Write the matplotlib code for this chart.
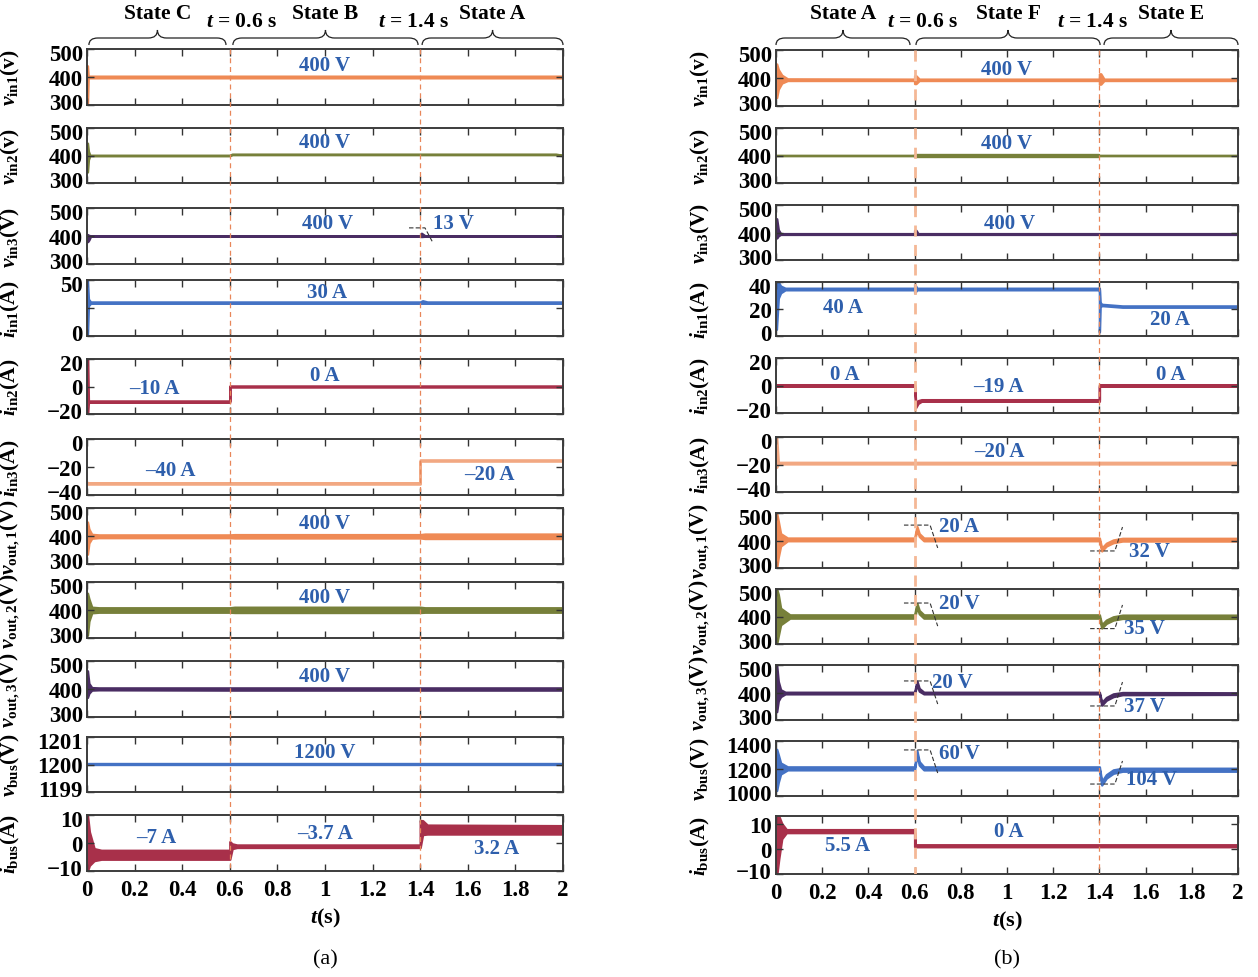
import matplotlib
matplotlib.use('Agg')
import matplotlib.pyplot as plt
from matplotlib.path import Path
from matplotlib.patches import PathPatch
from matplotlib.transforms import ScaledTranslation

plt.rcParams['font.family'] = ['Liberation Serif', 'DejaVu Serif']
plt.rcParams['font.weight'] = 'bold'
plt.rcParams['mathtext.fontset'] = 'custom'
plt.rcParams['mathtext.rm'] = 'Liberation Serif:bold'
plt.rcParams['mathtext.it'] = 'Liberation Serif:italic:bold'
plt.rcParams['mathtext.bf'] = 'Liberation Serif:bold'

# ---------------- data: (t, lower envelope, upper envelope) ----------------
t_switch = [0.6, 1.4]
x_ticks = [0, 0.2, 0.4, 0.6, 0.8, 1, 1.2, 1.4, 1.6, 1.8, 2]
x_ticklabels = ['0', '0.2', '0.4', '0.6', '0.8', '1', '1.2', '1.4', '1.6', '1.8', '2']

# (a)
a_vin1 = [(0, 300, 440), (0.002, 300, 440), (0.005, 397, 403), (2.0, 397, 403)]
a_vin2 = [(0, 340, 445), (0.002, 340, 445), (0.006, 385, 415), (0.012, 399, 401),
          (0.6, 399, 401), (0.61, 403, 405), (1.97, 403, 405), (1.99, 400, 402), (2.0, 400, 402)]
a_vin3 = [(0, 380, 405), (0.003, 380, 405), (0.008, 386, 402), (0.015, 399, 401),
          (1.4, 399, 401), (1.405, 398, 410), (1.42, 399, 401), (2.0, 399, 401)]
a_iin1 = [(0, 0, 50), (0.002, 0, 50), (0.006, 27, 33), (0.015, 29.2, 30.4),
          (1.4, 29.2, 30.4), (1.41, 29.2, 31.5), (1.43, 29.2, 30.4), (2.0, 29.2, 30.4)]
a_iin2 = [(0, -20, 20), (0.003, -20, 20), (0.006, -11.5, -10.5), (0.6, -11.5, -10.5),
          (0.6, -0.4, 0.4), (2.0, -0.4, 0.4)]
a_iin3 = [(0, -32.2, -30.8), (0.004, -32.2, -31.2), (1.4, -32.2, -31.2),
          (1.4, -15.8, -14.9), (2.0, -15.8, -14.9)]
a_vout1 = [(0, 335, 450), (0.002, 335, 450), (0.008, 375, 425), (0.02, 392, 406), (0.05, 394, 404),
           (0.6, 394, 404), (0.62, 393, 405), (1.4, 393, 405), (1.42, 391, 407), (2.0, 391, 407)]
a_vout2 = [(0, 310, 460), (0.002, 310, 460), (0.008, 360, 440), (0.02, 390, 410), (0.05, 392, 408),
           (0.6, 392, 408), (0.62, 391, 410), (1.4, 391, 410), (1.42, 392, 408), (2.0, 392, 408)]
a_vout3 = [(0, 370, 465), (0.002, 370, 465), (0.008, 385, 420), (0.02, 396, 405), (0.05, 397, 404),
           (0.6, 396, 404), (1.4, 396, 404), (2.0, 396, 404)]
a_vbus = [(0, 1199.97, 1200.03), (2.0, 1199.97, 1200.03)]
a_ibus = [(0, -10, 10), (0.002, -10, 10), (0.01, -8, 4), (0.03, -6.3, -2.0), (0.06, -5.8, -2.6),
          (0.6, -5.8, -2.6), (0.6, -5.8, 0.5), (0.61, -2.0, -0.3), (0.63, -1.6, -0.7),
          (1.4, -1.6, -0.7), (1.4, -1.6, 8.0), (1.41, 3.0, 8.0), (1.43, 3.2, 6.4), (2.0, 3.2, 6.2)]

# (b)
b_vin1 = [(0, 330, 450), (0.003, 330, 450), (0.01, 360, 430), (0.025, 382, 410), (0.05, 391, 397),
          (0.6, 391, 396), (0.6, 380, 408), (0.606, 380, 408), (0.62, 391, 396),
          (1.4, 391, 396), (1.4, 378, 415), (1.406, 378, 415), (1.42, 391, 396), (2.0, 391, 396)]
b_vin2 = [(0, 397, 399), (0.6, 397, 399), (0.6, 395.5, 400.5), (1.4, 395.5, 400.5),
          (1.4, 397, 399), (2.0, 397, 399)]
b_vin3 = [(0, 395, 450), (0.003, 380, 450), (0.01, 388, 410), (0.02, 393, 396),
          (0.6, 393, 396), (0.6, 393, 408), (0.606, 393, 408), (0.615, 393, 396), (2.0, 393, 396)]
b_iin1 = [(0, 5, 40), (0.002, 5, 40), (0.01, 28, 40), (0.02, 32, 37), (0.04, 34.2, 35.4),
          (0.6, 34.2, 35.4), (0.6, 32, 38.5), (0.61, 34.2, 35.4), (1.4, 34.2, 35.4),
          (1.4, 3, 35.4), (1.403, 21.5, 25), (1.41, 22.5, 23.5), (1.5, 21.3, 22.3), (2.0, 21.3, 22.3)]
b_iin2 = [(0, -0.6, 0.6), (0.6, -0.6, 0.6), (0.605, -16, -13), (0.615, -13, -11),
          (0.63, -11.5, -10.3), (1.4, -11.5, -10.3), (1.4, -0.6, 0.6), (2.0, -0.6, 0.6)]
b_iin3 = [(0, -22, 0), (0.003, -22, 0), (0.01, -19.6, -18.4), (2.0, -19.6, -18.4)]
b_vout1 = [(0, 300, 500), (0.003, 300, 500), (0.01, 340, 470), (0.02, 380, 425), (0.05, 399, 409),
           (0.6, 399, 409), (0.61, 441, 451), (0.62, 415, 425), (0.64, 399, 409),
           (1.4, 399, 409), (1.41, 362, 372), (1.43, 380, 390), (1.46, 392, 402), (1.5, 398, 408), (2.0, 398, 408)]
b_vout2 = [(0, 300, 500), (0.003, 300, 500), (0.01, 330, 480), (0.02, 370, 430), (0.06, 394, 406),
           (0.6, 394, 406), (0.61, 436, 448), (0.62, 410, 422), (0.64, 394, 406),
           (1.4, 394, 406), (1.41, 358, 370), (1.43, 375, 387), (1.46, 387, 399), (1.5, 393, 405), (2.0, 393, 405)]
b_vout3 = [(0, 330, 500), (0.003, 330, 500), (0.01, 370, 440), (0.02, 385, 410), (0.04, 395, 401),
           (0.6, 395, 401), (0.61, 430, 442), (0.62, 405, 415), (0.64, 395, 401),
           (1.4, 395, 401), (1.41, 354, 364), (1.43, 372, 382), (1.46, 385, 395), (1.5, 392, 400), (2.0, 393, 399)]
b_vbus = [(0, 1040, 1340), (0.003, 1040, 1340), (0.01, 1100, 1300), (0.02, 1160, 1240), (0.05, 1190, 1212),
          (0.6, 1190, 1212), (0.61, 1305, 1330), (0.62, 1225, 1250), (0.64, 1190, 1212),
          (1.4, 1190, 1212), (1.41, 1080, 1105), (1.43, 1130, 1155), (1.46, 1165, 1190), (1.5, 1180, 1202), (2.0, 1180, 1202)]
b_ibus = [(0, -10, 13), (0.004, -10, 13), (0.012, -4, 13), (0.025, 4, 10), (0.045, 6.4, 7.6),
          (0.6, 6.4, 7.6), (0.6, 0.8, 7.6), (0.603, 0.8, 1.6), (2.0, 0.8, 1.6)]

# value labels: (t, y, text, ha)
a_notes = [
    [(1.0, 443, '400 V', 'center')],
    [(1.0, 449, '400 V', 'center')],
    [(1.01, 446, '400 V', 'center'), (1.455, 446, '13 V', 'left')],
    [(1.01, 39, '30 A', 'center')],
    [(0.285, -1.1, '–10 A', 'center'), (1.0, 8.4, '0 A', 'center')],
    [(0.35, -22, '–40 A', 'center'), (1.69, -25, '–20 A', 'center')],
    [(1.0, 446, '400 V', 'center')],
    [(1.0, 446, '400 V', 'center')],
    [(1.0, 446, '400 V', 'center')],
    [(1.0, 1200.45, '1200 V', 'center')],
    [(0.29, 2.1, '–7 A', 'center'), (1.0, 3.6, '–3.7 A', 'center'), (1.72, -1.8, '3.2 A', 'center')],
]
b_notes = [
    [(1.0, 432, '400 V', 'center')],
    [(1.0, 445, '400 V', 'center')],
    [(1.01, 435, '400 V', 'center')],
    [(0.29, 21.5, '40 A', 'center'), (1.705, 12.6, '20 A', 'center')],
    [(0.3, 8.4, '0 A', 'center'), (0.965, -0.4, '–19 A', 'center'), (1.71, 8.4, '0 A', 'center')],
    [(0.965, -10.2, '–20 A', 'center')],
    [(0.705, 453, '20 A', 'left'), (1.53, 362, '32 V', 'left')],
    [(0.705, 449, '20 V', 'left'), (1.505, 358, '35 V', 'left')],
    [(0.675, 438, '20 V', 'left'), (1.505, 351, '37 V', 'left')],
    [(0.705, 1313, '60 V', 'left'), (1.515, 1124, '104 V', 'left')],
    [(0.31, 1.5, '5.5 A', 'center'), (1.01, 7.0, '0 A', 'center')],
]

# dashed callout lines: row index -> list of polylines
a_callouts = {2: [[(1.353, 429), (1.42, 429), (1.454, 375)]]}
b_callouts = {
    6: [[(0.554, 456), (0.667, 456), (0.70, 373)], [(1.36, 362), (1.467, 362), (1.50, 449)]],
    7: [[(0.554, 449), (0.667, 449), (0.70, 365)], [(1.36, 356), (1.467, 356), (1.50, 442)]],
    8: [[(0.554, 442), (0.667, 442), (0.70, 358)], [(1.36, 351), (1.467, 351), (1.50, 438)]],
    9: [[(0.554, 1335), (0.667, 1335), (0.70, 1167)], [(1.36, 1087), (1.467, 1087), (1.50, 1255)]],
}

a_states = ['State C', 'State B', 'State A']
a_spans = [(0.008, 0.584), (0.613, 1.391), (1.408, 2.0)]
b_states = ['State A', 'State F', 'State E']
b_spans = [(0.0, 0.58), (0.606, 1.403), (1.42, 2.0)]

ylabels = [r'$v_{\mathrm{in1}}\mathrm{(v)}$', r'$v_{\mathrm{in2}}\mathrm{(v)}$', r'$v_{\mathrm{in3}}\mathrm{(V)}$',
           r'$i_{\mathrm{in1}}\mathrm{(A)}$', r'$i_{\mathrm{in2}}\mathrm{(A)}$', r'$i_{\mathrm{in3}}\mathrm{(A)}$',
           r'$v_{\mathrm{out,1}}\mathrm{(V)}$', r'$v_{\mathrm{out,2}}\mathrm{(V)}$', r'$v_{\mathrm{out,3}}\mathrm{(V)}$',
           r'$v_{\mathrm{bus}}\mathrm{(V)}$', r'$i_{\mathrm{bus}}\mathrm{(A)}$']

orange = '#EF8A55'
olive = '#77803A'
purple = '#4A2D63'
blue = '#4472C4'
red = '#A8304A'
salmon = '#F2A882'
colors = [orange, olive, purple, blue, red, salmon, orange, olive, purple, blue, red]
note_blue = '#2E5FAC'

v_ticks = [300, 400, 500]
a_ylims = [(300, 500), (300, 500), (300, 500), (0, 50), (-20, 20), (-40, 0),
           (300, 500), (300, 500), (300, 500), (1199, 1201), (-10, 10)]
a_yticks = [v_ticks, v_ticks, v_ticks, [0, 25, 50], [-20, 0, 20], [-40, -20, 0],
            v_ticks, v_ticks, v_ticks, [1199, 1200, 1201], [-10, 0, 10]]
b_ylims = [(300, 500), (300, 500), (300, 500), (0, 40), (-20, 20), (-40, 0),
           (300, 500), (300, 500), (300, 500), (1000, 1400), (-10, 13)]
b_yticks = [v_ticks, v_ticks, v_ticks, [0, 20, 40], [-20, 0, 20], [-40, -20, 0],
            v_ticks, v_ticks, v_ticks, [1000, 1200, 1400], [-10, 0, 10]]

a_traces = [a_vin1, a_vin2, a_vin3, a_iin1, a_iin2, a_iin3, a_vout1, a_vout2, a_vout3, a_vbus, a_ibus]
b_traces = [b_vin1, b_vin2, b_vin3, b_iin1, b_iin2, b_iin3, b_vout1, b_vout2, b_vout3, b_vbus, b_ibus]

# ---------------- layout (pixels) ----------------
W, H = 1258, 978
fig = plt.figure(figsize=(W / 100, H / 100), dpi=100)


def px_axes(x0, x1, y0, y1):
    return fig.add_axes([x0 / W, 1 - y1 / H, (x1 - x0) / W, (y1 - y0) / H])


def tick_text(v):
    if v == 25:
        return ''
    return str(v).replace('-', '\u2212')


def brace(ax, x0, x1, ppt):
    r = 9 / ppt
    xm = (x0 + x1) / 2
    yb, yf, yt = 46, 39, 31
    verts = [(x0, yb), (x0, yf), (x0 + r, yf), (xm - r, yf), (xm, yf), (xm, yt),
             (xm, yf), (xm + r, yf), (x1 - r, yf), (x1, yf), (x1, yb)]
    codes = [Path.MOVETO, Path.CURVE3, Path.CURVE3, Path.LINETO, Path.CURVE3, Path.CURVE3,
             Path.CURVE3, Path.CURVE3, Path.LINETO, Path.CURVE3, Path.CURVE3]
    ax.add_patch(PathPatch(Path(verts, codes), fill=False, lw=0.9, color='#222222', clip_on=False))


def draw_column(x0, x1, rows, traces, ylims, yticks, notes, callouts, states, spans,
                t_text_x, lbl_x, line_styles, panel):
    for i, (y0, y1) in enumerate(rows):
        ax = px_axes(x0, x1, y0, y1)
        d = traces[i]
        t = [p[0] for p in d]
        lo = [p[1] for p in d]
        hi = [p[2] for p in d]
        ax.fill_between(t, lo, hi, facecolor=colors[i], edgecolor=colors[i], linewidth=1.7)
        ax.set_xlim(0, 2)
        ax.set_ylim(*ylims[i])
        ax.set_xticks(x_ticks)
        ax.set_yticks(yticks[i])
        ax.set_yticklabels([tick_text(v) for v in yticks[i]])
        ax.tick_params(direction='in', length=5, width=1, top=True, right=True,
                       labelsize=16.5, pad=3, colors='#333333', labelcolor='black')
        for s in ax.spines.values():
            s.set_linewidth(1.4)
            s.set_color('#3c3c3c')
        if i == len(rows) - 1:
            ax.set_xticklabels(x_ticklabels)
            ax.tick_params(axis='x', pad=6)
            ax.set_xlabel(r'$t\mathrm{(s)}$', fontsize=16, labelpad=4)
        else:
            ax.set_xticklabels([])
        ax.set_ylabel(ylabels[i], fontsize=15.5)
        ax.yaxis.set_label_coords(-lbl_x / (x1 - x0), 0.5)
        # pull the end labels slightly inside the frame, as in the reference
        for v, lab in zip(yticks[i], ax.get_yticklabels()):
            if v == ylims[i][1]:
                lab.set_transform(lab.get_transform() + ScaledTranslation(0, -2.5 / 72, fig.dpi_scale_trans))
            elif v == ylims[i][0]:
                lab.set_transform(lab.get_transform() + ScaledTranslation(0, 3 / 72, fig.dpi_scale_trans))
        for (tx, ty, txt, ha) in notes[i]:
            ax.text(tx, ty, txt, color=note_blue, fontsize=15, fontweight='bold',
                    ha=ha, va='center')
        for poly in callouts.get(i, []):
            ax.plot([p[0] for p in poly], [p[1] for p in poly], color='#333333',
                    lw=0.8, dashes=(4, 2))

    # overlay for switching lines, braces and state names
    top, bot = rows[0][0], rows[-1][1]
    ov = px_axes(x0, x1, 0, bot)
    ov.set_xlim(0, 2)
    ov.set_ylim(bot, 0)
    ov.axis('off')
    for ts, (lc, lw) in zip(t_switch, line_styles):
        ov.plot([ts, ts], [top, bot], color=lc, lw=lw, dashes=(4, 3))
    ppt = (x1 - x0) / 2
    for name, (s0, s1) in zip(states, spans):
        brace(ov, s0, s1, ppt)
        ov.text((s0 + s1) / 2, 14, name, fontsize=15.5, ha='center', va='center')
    for ts, tx in zip(t_switch, t_text_x):
        ov.text(tx, 22, '$t$ = %g s' % ts, fontsize=15.5, ha='center', va='center')
    fig.text(((x0 + x1) / 2) / W, 1 - 960 / H, panel, fontsize=16, fontweight='normal',
             ha='center', va='center')


a_rows = [(50, 106), (129, 184), (209, 265), (281, 337), (360, 415), (440, 496),
          (509, 565), (583, 639), (662, 718), (738, 793), (816, 872)]
b_rows = [(51, 107), (129, 184), (206, 261), (283, 337), (359, 414), (438, 493),
          (514, 569), (590, 645), (666, 721), (742, 797), (817, 875)]

draw_column(87, 563, a_rows, a_traces, a_ylims, a_yticks, a_notes, a_callouts,
            a_states, a_spans, [0.651, 1.37], 65,
            [('#E8875A', 0.9), ('#E8875A', 0.9)], '(a)')
draw_column(776, 1238, b_rows, b_traces, b_ylims, b_yticks, b_notes, b_callouts,
            b_states, b_spans, [0.632, 1.372], 64,
            [('#F4B896', 2.0), ('#E8875A', 0.9)], '(b)')

fig.savefig('out.png', dpi=100)
